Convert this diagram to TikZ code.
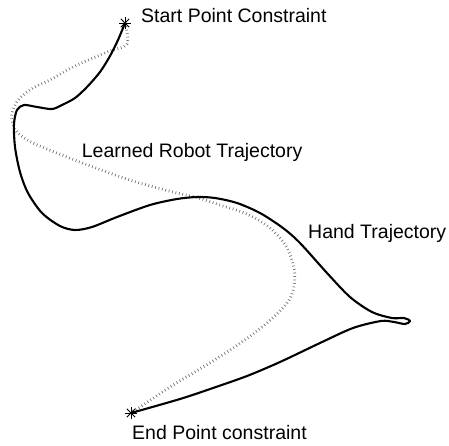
\documentclass[tikz,border=0pt]{standalone}
\usepackage{fontspec}
\setmainfont{Liberation Sans}
\usetikzlibrary{calc,positioning}

\begin{document}
\begin{tikzpicture}[x=1pt, y=-1pt]
    % --- Definitions ---
    \useasboundingbox (0,0) rectangle (449,445);
    \coordinate (start) at (125,23);
    \coordinate (finish) at (131,413);

    % --- Styles ---
    \tikzstyle{hand_path}=[line width=2.1pt, line join=round, line cap=round]
    \tikzstyle{robot_path}=[
        draw=black!55,
        line width=2.8pt,
        dash pattern=on 0.7pt off 2.8pt
    ]
    \tikzstyle{label_text}=[font=\fontsize{19.5}{22}\selectfont, inner sep=0pt, anchor=base west]

    % --- 1. Learned robot trajectory (dotted) ---
    \draw[robot_path] plot[smooth, tension=0.55] coordinates {
        (start) (127,44) (107,52) (73,67) (50,80) (33,88) (19,99) (12,113)
        (13,124) (18,133) (33,143) (67,157) (93,167) (133,181) (173,192)
        (195,197) (220,205) (247,214) (270,228) (286,246) (294,268)
        (294,286) (289,300) (277,314) (257,331) (230,350) (200,369)
        (178,382) (155,397) (finish)
    };

    % --- 2. Hand trajectory (solid) ---
    \draw[hand_path] plot[smooth, tension=0.5] coordinates {
        (start) (118,40) (110,56) (100,72) (87,87) (75,98) (62,105) (52,109)
        (37,107) (24,105) (17,110) (14,124) (15,147) (20,172) (28,193)
        (42,213) (60,226) (75,230) (92,227) (117,217) (150,205) (177,199)
        (197,197) (215,198) (237,203) (260,213) (283,228) (300,243)
        (327,273) (350,297) (372,312) (392,318) (404,318) (410,321)
        (405,324) (394,322) (381,321) (353,328) (320,343) (280,362)
        (247,376) (213,388) (180,399) (finish)
    };

    % --- 3. Constraint markers ---
    \foreach \p in {start, finish}
        \foreach \a in {0,45,90,135}
            \draw[line width=0.8pt] ($(\p)+(\a:6)$) -- ($(\p)+(\a+180:6)$);

    % --- 4. Labels ---
    \node[label_text] (start_lbl) at (141,22.7) {Start Point Constraint};
    \node[label_text] (robot_lbl) at (81.7,157) {Learned Robot Trajectory};
    \node[label_text] (hand_lbl) at (308,238) {Hand Trajectory};
    \node[label_text] (end_lbl) at (132,439) {End Point constraint};

\end{tikzpicture}
\end{document}
